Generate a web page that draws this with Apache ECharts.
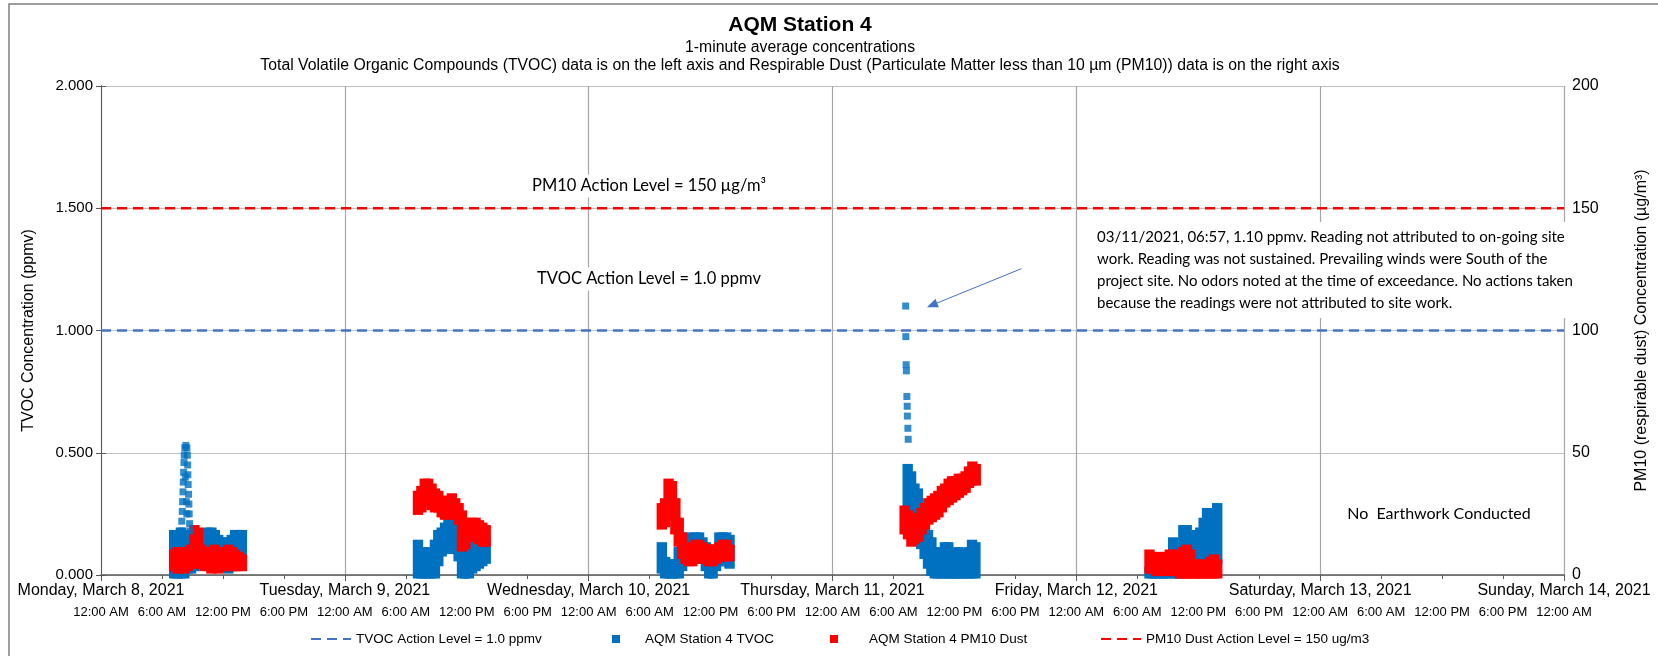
<!DOCTYPE html>
<html>
<head>
<meta charset="utf-8">
<title>AQM Station 4</title>
<script src="https://cdn.jsdelivr.net/npm/echarts@6/dist/echarts.min.js"></script>
<style>
    html, body { margin: 0; padding: 0; background: #fff; }
    #chart { width: 1658px; height: 656px; }
</style>
</head>
<body>
<div id="chart"></div>
<script>
// x = hours after Monday, March 8, 2021 12:00 AM
var dayLabels = ['Monday, March 8, 2021', 'Tuesday, March 9, 2021', 'Wednesday, March 10, 2021',
    'Thursday, March 11, 2021', 'Friday, March 12, 2021', 'Saturday, March 13, 2021', 'Sunday, March 14, 2021'];
var timeLabels = ['12:00 AM', '6:00 AM', '12:00 PM', '6:00 PM'];

var tvocAction = 1.0;   // ppmv
var pm10Action = 150;   // ug/m3

// readings grouped in 20 minute bins, each bin = [lowest, highest]
var binStep = 1 / 3;
var tvocStarts = [7.2, 31.2, 55.2, 79.4, 103.2];
var pm10Starts = [7.2, 31.2, 55.2, 79.1, 103.2];

var tvocMar8 = [[0, .17], [0, .16], [0, .18], [0, .16], [.02, .16], [.02, .17], [.03, .14], [.05, .15], [.05, .15], [.04, .16],
    [.05, .18], [.04, .18], [.04, .17], [.05, .15], [.05, .14], [.03, .14], [.02, .13], [.03, .15], [.05, .17], [.06, .17], [.05, .17]];
var tvocMar9 = [[0, .13], [0, .09], [0, .10], [0, .07], [0, .08], [0, .13], [.05, .17], [.09, .18], [.10, .20], [.11, .22],
    [.12, .22], [.10, .22], [.07, .18], [0, .12], [0, .10], [0, .10], [.02, .12], [.03, .13], [.04, .14], [.05, .14], [.06, .14]];
var tvocMar10 = [[.02, .12], [0, .06], [0, .05], [0, .04], [0, .05], [0, .10], [.03, .12], [.06, .15], [.07, .16], [.07, .15],
    [.07, .16], [.06, .16], [.06, .14], [.03, .12], [0, .09], [0, .08], [.03, .11], [.05, .16], [.06, .16], [.05, .16], [.04, .15]];
var tvocMar11 = [[.28, .44], [.22, .41], [.18, .36], [.16, .34], [.12, .25], [.08, .21], [.04, .17], [.01, .14], [0, .10], [0, .06],
    [0, .09], [0, .12], [0, .12], [0, .06], [0, .09], [0, .10], [0, .09], [0, .06], [0, .10], [0, .13], [0, .12]];
var tvocMar12 = [[0, .02], [0, .02], [0, .02], [0, .02], [0, .02], [0, .03], [0, .05], [.02, .14], [0, .06], [0, .05],
    [.04, .19], [.05, .19], [.05, .15], [.04, .14], [.05, .17], [.05, .18], [.06, .22], [.08, .26], [.07, .25], [.04, .22], [.06, .28]];
// single readings of the two short TVOC spikes, [hour, ppmv]
var tvocSpikeMar8 = [[7.9, .18], [7.95, .22], [8.0, .26], [8.03, .30], [8.07, .34], [8.1, .38], [8.13, .42], [8.17, .46],
    [8.2, .49], [8.25, .52], [8.35, .53], [8.45, .52], [8.5, .49], [8.53, .45], [8.55, .41], [8.58, .37], [8.62, .33],
    [8.65, .29], [8.68, .25], [8.72, .21], [8.75, .18], [8.3, .40], [8.4, .30], [8.45, .25]];
var tvocSpikeMar11 = [[79.2, 1.10], [79.22, 0.975], [79.25, 0.86], [79.27, 0.835], [79.32, 0.73], [79.35, 0.69],
    [79.37, 0.65], [79.42, 0.60], [79.45, 0.555]];

var pm10Mar8 = [[3, 9], [2, 10], [3, 10], [2, 9], [3, 10], [4, 11], [5, 19], [4, 18], [4, 11], [3, 10], [3, 10],
    [2, 10], [3, 11], [2, 10], [3, 10], [4, 10], [3, 11], [3, 10], [3, 9], [3, 8], [3, 7]];
var pm10Mar9 = [[26, 33], [27, 35], [29, 38], [30, 38], [28, 36], [27, 34], [27, 33], [25, 31], [24, 30], [25, 31], [26, 32],
    [24, 30], [22, 28], [11, 25], [12, 22], [15, 21], [16, 22], [15, 22], [14, 21], [13, 20], [13, 19]];
var pm10Mar10 = [[20, 28], [21, 30], [24, 38], [25, 37], [18, 30], [13, 22], [8, 16], [6, 12], [5, 11], [5, 10], [7, 13],
    [7, 13], [6, 12], [6, 11], [5, 11], [5, 11], [6, 11], [7, 12], [7, 13], [7, 13], [7, 11]];
var pm10Mar11 = [[18, 27], [16, 25], [13, 23], [14, 22], [15, 24], [18, 26], [20, 28], [22, 30], [23, 31], [24, 32], [25, 33],
    [27, 35], [29, 36], [30, 38], [31, 39], [32, 39], [33, 40], [34, 40], [35, 41], [37, 43], [38, 45], [38, 44]];
var pm10Mar12 = [[2, 9], [2, 8], [1, 7], [1, 8], [1, 8], [2, 8], [1, 9], [1, 9], [1, 8], [0, 7], [0, 10],
    [0, 11], [0, 9], [0, 5], [0, 5], [0, 4], [0, 5], [0, 4], [0, 6], [0, 7], [0, 5]];

var noteArrow = [[90.6, 1.253], [81.8, 1.104]];

(function() {
    var font = "'Liberation Sans', Arial, sans-serif";
    var noteFont = "Lato, 'Open Sans', sans-serif";
    var blue = '#0070C0';
    var red = '#FF0000';
    var markSize = 7;

    // turn [lo, hi] bins into [hour, lo, hi]
    function bins(start, list) {
        return list.map(function(r, i) {
            return [start + i * binStep, r[0], r[1]];
        });
    }
    var tvocData = [].concat(
        bins(tvocStarts[0], tvocMar8), bins(tvocStarts[1], tvocMar9), bins(tvocStarts[2], tvocMar10),
        bins(tvocStarts[3], tvocMar11), bins(tvocStarts[4], tvocMar12));
    var pm10Data = [].concat(
        bins(pm10Starts[0], pm10Mar8), bins(pm10Starts[1], pm10Mar9), bins(pm10Starts[2], pm10Mar10),
        bins(pm10Starts[3], pm10Mar11), bins(pm10Starts[4], pm10Mar12));

    // each bin is drawn as the area its square markers cover
    function drawBin(params, api) {
        var a = api.coord([api.value(0) - binStep / 2, api.value(2)]);
        var b = api.coord([api.value(0) + binStep / 2, api.value(1)]);
        return {
            type: 'rect',
            shape: {
                x: a[0] - markSize / 2,
                y: a[1] - markSize / 2,
                width: b[0] - a[0] + markSize,
                height: b[1] - a[1] + markSize
            },
            style: { fill: api.visual('color') }
        };
    }

    function legendText(gap) {
        return { fontFamily: font, fontSize: 13.5, color: '#000', padding: [0, 0, 0, gap] };
    }

    var myechart = echarts.init(document.getElementById('chart'));
    var option = {
        animation: false,
        backgroundColor: '#fff',
        title: {
            text: 'AQM Station 4',
            subtext: '1-minute average concentrations\nTotal Volatile Organic Compounds (TVOC) data is on the left axis and Respirable Dust (Particulate Matter less than 10 µm (PM10)) data is on the right axis',
            left: 795,
            textAlign: 'center',
            top: 10,
            itemGap: 3,
            textStyle: { fontFamily: font, fontSize: 21, fontWeight: 'bold', color: '#000' },
            subtextStyle: { fontFamily: font, fontSize: 15.8, color: '#000', lineHeight: 18, align: 'center' }
        },
        legend: [{
            data: ['TVOC Action Level = 1.0 ppmv'],
            left: 310, top: 632, padding: 0, itemWidth: 40, itemHeight: 8,
            itemStyle: { opacity: 0 },
            selectedMode: false, textStyle: legendText(0)
        }, {
            data: [{ name: 'AQM Station 4 TVOC', icon: 'rect' }],
            left: 612, top: 632, padding: 0, itemWidth: 8, itemHeight: 8,
            selectedMode: false, textStyle: legendText(20)
        }, {
            data: [{ name: 'AQM Station 4 PM10 Dust', icon: 'rect' }],
            left: 830, top: 632, padding: 0, itemWidth: 8, itemHeight: 8,
            selectedMode: false, textStyle: legendText(26)
        }, {
            data: ['PM10 Dust Action Level = 150 ug/m3'],
            left: 1100, top: 632, padding: 0, itemWidth: 40, itemHeight: 8,
            itemStyle: { opacity: 0 },
            selectedMode: false, textStyle: legendText(0)
        }],
        grid: { left: 101, right: 85, top: 86, bottom: 81 },
        xAxis: [{
            // day names, one gridline per day
            type: 'value', min: 0, max: 144, interval: 24,
            axisLine: { lineStyle: { color: '#595959', width: 1.5 } },
            axisTick: { length: 6, lineStyle: { color: '#595959' } },
            splitLine: { show: true, lineStyle: { color: '#a6a6a6', width: 1.2 } },
            axisLabel: {
                margin: 8, color: '#000', fontFamily: font, fontSize: 16,
                showMinLabel: true, showMaxLabel: true,
                formatter: function(v) { return dayLabels[Math.round(v / 24)]; }
            }
        }, {
            // times of day every 6 hours
            type: 'value', min: 0, max: 144, interval: 6, position: 'bottom',
            axisLine: { show: false },
            axisTick: { length: 4, lineStyle: { color: '#595959' } },
            splitLine: { show: false },
            axisLabel: {
                margin: 31, color: '#000', fontFamily: font, fontSize: 13,
                showMinLabel: true, showMaxLabel: true,
                formatter: function(v) { return timeLabels[Math.round(v / 6) % 4]; }
            }
        }],
        yAxis: [{
            type: 'value', min: 0, max: 2, interval: 0.5,
            name: 'TVOC Concentration (ppmv)',
            nameLocation: 'middle', nameGap: 64, nameRotate: 90,
            nameTextStyle: { fontFamily: font, fontSize: 16, color: '#000' },
            axisLine: { show: true, lineStyle: { color: '#595959' } },
            axisTick: { show: true, length: 5, lineStyle: { color: '#595959' } },
            splitLine: { lineStyle: { color: '#bfbfbf', width: 1.2 } },
            axisLabel: {
                margin: 8, color: '#000', fontFamily: font, fontSize: 15,
                formatter: function(v) { return v.toFixed(3); }
            }
        }, {
            type: 'value', min: 0, max: 200, interval: 50, position: 'right',
            name: 'PM10 (respirable dust) Concentration (µg/m³)',
            nameLocation: 'middle', nameGap: 70, nameRotate: 90,
            nameTextStyle: { fontFamily: font, fontSize: 16, color: '#000' },
            axisLine: { show: true, lineStyle: { color: '#595959' } },
            axisTick: { show: true, length: 5, lineStyle: { color: '#595959' } },
            splitLine: { show: false },
            axisLabel: { margin: 8, color: '#000', fontFamily: font, fontSize: 16 }
        }],
        series: [{
            name: 'TVOC Action Level = 1.0 ppmv',
            type: 'line', symbol: 'none', silent: true,
            data: [[0, tvocAction], [144, tvocAction]],
            lineStyle: { color: '#4472C4', width: 2.5, type: [10, 6] },
            itemStyle: { color: '#4472C4' }
        }, {
            name: 'AQM Station 4 TVOC',
            type: 'custom', renderItem: drawBin,
            encode: { x: 0, y: [1, 2] },
            data: tvocData,
            itemStyle: { color: blue }
        }, {
            name: 'AQM Station 4 TVOC',
            type: 'scatter', symbol: 'rect', symbolSize: markSize,
            data: tvocSpikeMar8.concat(tvocSpikeMar11),
            itemStyle: { color: blue },
            markLine: {
                silent: true, symbol: ['none', 'triangle'], symbolSize: [9, 11],
                label: { show: false },
                lineStyle: { color: '#4472C4', width: 1, type: 'solid' },
                data: [[
                    { coord: noteArrow[0] },
                    { coord: noteArrow[1] }
                ]]
            }
        }, {
            name: 'AQM Station 4 PM10 Dust',
            type: 'custom', renderItem: drawBin, yAxisIndex: 1,
            encode: { x: 0, y: [1, 2] },
            data: pm10Data,
            itemStyle: { color: red }
        }, {
            name: 'PM10 Dust Action Level = 150 ug/m3',
            type: 'line', symbol: 'none', silent: true, yAxisIndex: 1,
            data: [[0, pm10Action], [144, pm10Action]],
            lineStyle: { color: red, width: 2.5, type: [10, 6] },
            itemStyle: { color: red }
        }],
        graphic: [{
            type: 'rect', silent: true, z: 0,
            shape: { x: 9, y: 4, width: 1700, height: 700 },
            style: { fill: 'none', stroke: '#7f7f7f', lineWidth: 1.5 }
        }, {
            type: 'text', x: 649, y: 186, z: 5,
            style: {
                text: 'PM10 Action Level = 150 µg/m³', font: '16.5px ' + noteFont, fill: '#000',
                align: 'center', verticalAlign: 'middle',
                backgroundColor: '#fff', padding: [3, 4]
            }
        }, {
            type: 'text', x: 649, y: 279, z: 5,
            style: {
                text: 'TVOC Action Level = 1.0 ppmv', font: '16.5px ' + noteFont, fill: '#000',
                align: 'center', verticalAlign: 'middle',
                backgroundColor: '#fff', padding: [3, 4]
            }
        }, {
            type: 'text', left: 1090, top: 222, z: 5,
            style: {
                text: '03/11/2021, 06:57, 1.10 ppmv. Reading not attributed to on-going site\nwork. Reading was not sustained. Prevailing winds were South of the\nproject site. No odors noted at the time of exceedance. No actions taken\nbecause the readings were not attributed to site work.',
                font: '15px ' + noteFont, fill: '#000', lineHeight: 22,
                backgroundColor: '#fff', padding: [4, 7]
            }
        }, {
            type: 'text', x: 1439, y: 514, z: 5,
            style: {
                text: 'No  Earthwork Conducted', font: '16px ' + noteFont, fill: '#000',
                align: 'center', verticalAlign: 'middle'
            }
        }]
    };
    myechart.setOption(option);
})();
</script>
</body>
</html>
